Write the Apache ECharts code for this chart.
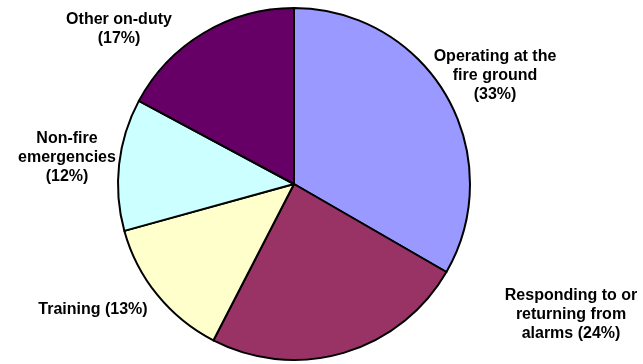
<!DOCTYPE html>
<html>
<head>
<meta charset="utf-8">
<script src="https://cdn.jsdelivr.net/npm/echarts@6/dist/echarts.min.js"></script>
<style>
  html, body { margin: 0; padding: 0; background: #ffffff; }
  #chart { width: 643px; height: 364px; }
</style>
</head>
<body>
<div id="chart"></div>
<script>
// Share of on-duty time by activity (percent)
const categories = [
  'Operating at the\nfire ground',
  'Responding to or\nreturning from\nalarms',
  'Training',
  'Non-fire\nemergencies',
  'Other on-duty'
];
const shares = [33, 24, 13, 12, 17];
// separator between the activity name and its percentage
const percentBreak = ['\n', ' ', ' ', '\n', '\n'];
const sliceColors = ['#9999FF', '#993366', '#FFFFCC', '#CCFFFF', '#660066'];

// label anchor points (text block centres)
const labelAnchors = [
  [495, 76],
  [571, 315],
  [93, 310],
  [67, 158],
  [119, 29]
];

const chart = echarts.init(document.getElementById('chart'), null, { renderer: 'canvas' });

chart.setOption({
  animation: false,
  backgroundColor: '#ffffff',
  series: [{
    type: 'pie',
    center: [294, 184],
    radius: 176,
    startAngle: 90,
    clockwise: true,
    avoidLabelOverlap: false,
    silent: true,
    data: categories.map((name, i) => ({
      name: name,
      value: shares[i],
      itemStyle: { color: sliceColors[i] }
    })),
    itemStyle: {
      borderColor: '#000000',
      borderWidth: 2
    },
    label: {
      show: true,
      position: 'outside',
      formatter: p => p.name + percentBreak[p.dataIndex] + '(' + p.value + '%)',
      fontFamily: '"Liberation Sans", Arial, sans-serif',
      fontWeight: 'bold',
      fontSize: 16,
      lineHeight: 19,
      color: '#000000',
      align: 'center',
      verticalAlign: 'middle'
    },
    labelLine: { show: false },
    labelLayout: p => ({
      x: labelAnchors[p.dataIndex][0],
      y: labelAnchors[p.dataIndex][1],
      align: 'center',
      verticalAlign: 'middle'
    }),
    emphasis: { disabled: true }
  }]
});
</script>
</body>
</html>
